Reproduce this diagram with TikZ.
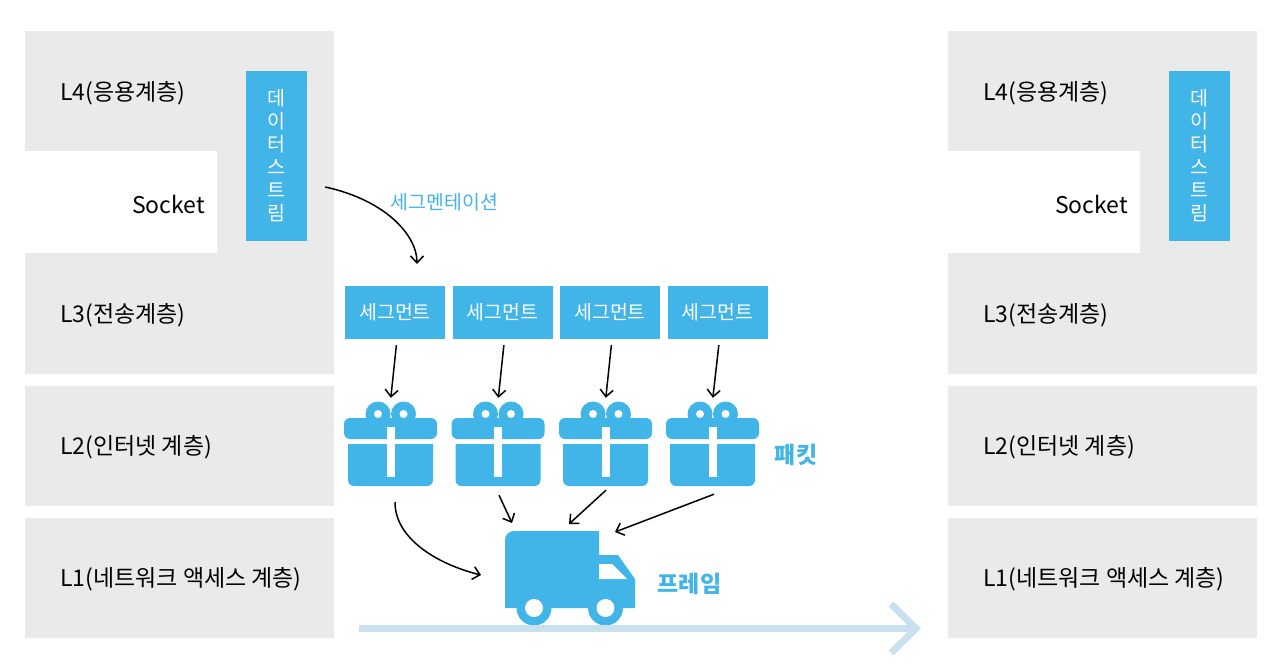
\documentclass[tikz,border=0pt]{standalone}
\usepackage{fontspec}
\setmainfont{Noto Sans CJK KR}
\usepackage{xcolor}
\usetikzlibrary{arrows.meta}
\definecolor{layer-grey}{HTML}{EAEAEA}
\definecolor{packet-blue}{HTML}{41B5E8}
\definecolor{track-blue}{HTML}{C9E1EE}
\tikzset{
  layerlabel/.style={anchor=west, inner sep=0pt, font=\fontsize{23}{27}\selectfont},
  bluebox/.style={fill=packet-blue, text=white, inner sep=0pt},
  segbox/.style={bluebox, minimum width=100pt, minimum height=53pt, font=\fontsize{19.4}{23}\selectfont},
  emptybox/.style={inner sep=0pt},
  flow/.style={-{Straight Barb[length=7pt,width=13pt]}, line width=1.5pt, color=black},
  bluelabel/.style={text=packet-blue, font=\fontsize{23}{27}\selectfont\bfseries},
  pics/gift/.style={code={
    \fill[packet-blue, rounded corners=6pt] (-46.5,-26) rectangle (46.5,-5);
    \fill[packet-blue] (-42.5,0) -- (42.5,0) [rounded corners=6pt] -- (42.5,42) -- (-42.5,42) [sharp corners] -- cycle;
    \fill[packet-blue] (-12.5,-30) circle (12.5) (13,-30) circle (12.5);
    \fill[white] (-12.5,-30) circle (4) (13,-30) circle (4);
    \fill[white] (-4,-17) rectangle (4,33);
  }}
}
\begin{document}
\begin{tikzpicture}[x=1pt, y=-1pt]
  \useasboundingbox (0,0) rectangle (1280,669);
  % both layer stacks
  \foreach \dx/\side in {0/a, 923/b} {
    \fill[layer-grey] (25+\dx,31) rectangle (334+\dx,374);
    \fill[white] (25+\dx,151) rectangle (217+\dx,253);
    \fill[layer-grey] (25+\dx,386) rectangle (334+\dx,506);
    \fill[layer-grey] (25+\dx,518) rectangle (334+\dx,638);
    \node[layerlabel] (l4\side) at (60+\dx,93) {L4(응용계층)};
    \node[layerlabel, anchor=east] (sock\side) at (205+\dx,204) {Socket};
    \node[layerlabel] (l3\side) at (60+\dx,315) {L3(전송계층)};
    \node[layerlabel] (l2\side) at (60+\dx,447) {L2(인터넷 계층)};
    \node[layerlabel] (l1\side) at (60+\dx,579) {L1(네트워크 액세스 계층)};
    \node[bluebox, minimum width=61pt, minimum height=170pt, align=center,
      font=\fontsize{19.5}{23}\selectfont] (stream\side) at (276.5+\dx,156) {데\\이\\터\\스\\트\\림};
  }
  % segments and packets
  \foreach \i/\sx/\gx in {1/395/390.5, 2/502.5/498, 3/610/605.5, 4/717.5/712.5} {
    \node[segbox] (seg\i) at (\sx,312.5) {세그먼트};
    \node[emptybox, minimum width=93pt, minimum height=85pt] (gift\i) at (\gx,443.5) {};
    \pic at (\gx,444) {gift};
    \draw[flow, shorten <=6pt, shorten >=3pt] ([xshift=2pt]seg\i.south) -- (gift\i.north);
  }
  \node[text=packet-blue, font=\fontsize{19.4}{23}\selectfont] (segment) at (444.5,202) {세그멘테이션};
  \node[bluelabel] (packet) at (796,455) {패킷};
  \node[bluelabel] (frame) at (689.5,584) {프레임};
  % truck
  \fill[packet-blue] (599,531) -- (599,555) -- (618,555) -- (635,579) -- (635,608) -- (505,608)
    [rounded corners=9pt] -- (505,531) [sharp corners] -- cycle;
  \fill[white] (599,564) -- (612,564) -- (627,579) -- (599,579) -- cycle;
  \fill[packet-blue] (534,608) circle (17.5) (605.5,608) circle (17.5);
  \fill[white] (534,608) circle (9) (605.5,608) circle (9);
  \node[emptybox, minimum width=130pt, minimum height=94pt] (truck) at (570,578) {};
  % road
  \coordinate (roadstart) at (359,628.5);
  \coordinate (roadend) at (916,628.5);
  \draw[track-blue, line width=7pt] (roadstart) -- (roadend);
  \draw[track-blue, line width=7pt] (891,604) -- (roadend) -- (891,653);
  % arrows
  \coordinate (dock1) at (481,575);
  \coordinate (dock2) at (512,523);
  \coordinate (dock3) at (569,524);
  \coordinate (dock4) at (615,532);
  \coordinate (segtop) at (417,264);
  \draw[flow] ([shift={(18pt,-31pt)}]streama.east) .. controls +(60pt,-13pt) and (417,235) .. (segtop);
  \draw[flow] ([shift={(4.5pt,-16pt)}]gift1.south) .. controls (395,540) and (440,565) .. (dock1);
  \draw[flow] ([shift={(1pt,-9pt)}]gift2.south) -- (dock2);
  \draw[flow] ([shift={(0.5pt,-4pt)}]gift3.south) -- (dock3);
  \draw[flow] ([shift={(1.5pt,-8pt)}]gift4.south) -- (dock4);
\end{tikzpicture}
\end{document}
